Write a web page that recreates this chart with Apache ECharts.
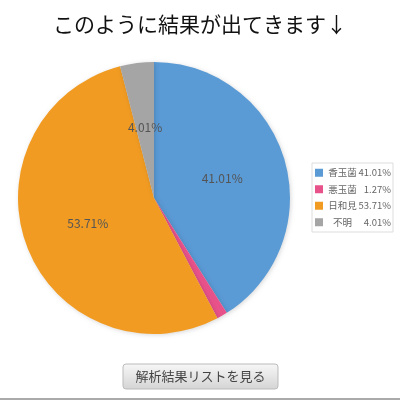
<!DOCTYPE html>
<html>
<head>
<meta charset="utf-8">
<script src="https://cdn.jsdelivr.net/npm/echarts@6/dist/echarts.min.js"></script>
<style>
html,body{margin:0;padding:0;background:#fff;}
#main{width:400px;height:400px;}
</style>
</head>
<body>
<div id="main"></div>
<script>
// 菌の分類
var names = ['香玉菌', '悪玉菌', '日和見', '不明'];
// 割合(%)
var values = [41.01, 1.27, 53.71, 4.01];
var colors = ['#5a9ad5', '#e8528a', '#f19b22', '#a5a5a5'];
var titleText = 'このように結果が出てきます↓';
var buttonText = '解析結果リストを見る';

var FONT = '"Noto Sans CJK JP", "Noto Sans", sans-serif';

var pieData = [];
for (var i = 0; i < names.length; i++) {
    pieData.push({
        name: names[i],
        value: values[i],
        itemStyle: { color: colors[i] },
        label: { show: values[i] > 2 } // 小さいのはラベル無し
    });
}

var myChart = echarts.init(document.getElementById('main'));
var option = {
    animation: false,
    title: {
        text: titleText,
        left: 'center',
        top: 9,
        textStyle: { fontFamily: FONT, fontSize: 21, fontWeight: 'normal', color: '#111' }
    },
    legend: {
        orient: 'vertical',
        left: 312,
        top: 163,
        padding: [5, 2, 5, 3],
        itemWidth: 8,
        itemHeight: 8,
        itemGap: 7,
        icon: 'rect',
        borderColor: '#ddd',
        borderWidth: 1,
        data: names,
        formatter: function (name) {
            var idx = names.indexOf(name);
            return '{n|' + name + '}{v|' + values[idx].toFixed(2) + '%}';
        },
        textStyle: {
            fontFamily: FONT,
            color: '#666',
            fontSize: 9.5,
            rich: {
                n: { fontFamily: FONT, fontSize: 9.5, lineHeight: 10, color: '#666', width: 29, align: 'center' },
                v: { fontFamily: FONT, fontSize: 9.5, lineHeight: 10, color: '#666', width: 31, align: 'right', padding: [0, 0, 0, 3] }
            }
        }
    },
    series: [{
        type: 'pie',
        center: [154, 198],
        radius: [0, 136],
        startAngle: 90,
        clockwise: true,
        avoidLabelOverlap: false,
        itemStyle: {
            shadowBlur: 4,
            shadowColor: 'rgba(0,0,0,0.15)',
            shadowOffsetX: 1,
            shadowOffsetY: 1
        },
        label: {
            position: 'inside',
            formatter: function (p) { return p.value.toFixed(2) + '%'; },
            color: '#555',
            fontFamily: FONT,
            fontSize: 12
        },
        labelLine: { show: false },
        emphasis: { disabled: true },
        data: pieData
    }],
    graphic: [
        {
            type: 'rect',
            shape: { x: 123, y: 364, width: 155, height: 25, r: 3 },
            style: {
                fill: new echarts.graphic.LinearGradient(0, 0, 0, 1, [
                    { offset: 0, color: '#f7f7f7' },
                    { offset: 1, color: '#d4d4d4' }
                ]),
                stroke: '#bbb',
                lineWidth: 1
            }
        },
        {
            type: 'text',
            x: 200.5,
            y: 376.5,
            style: {
                text: buttonText,
                fontFamily: FONT,
                fontSize: 13,
                fill: '#444',
                align: 'center',
                verticalAlign: 'middle'
            }
        },
        {
            type: 'rect',
            shape: { x: 0, y: 398, width: 400, height: 2 },
            style: { fill: '#aaa' }
        }
    ]
};
myChart.setOption(option);
</script>
</body>
</html>
